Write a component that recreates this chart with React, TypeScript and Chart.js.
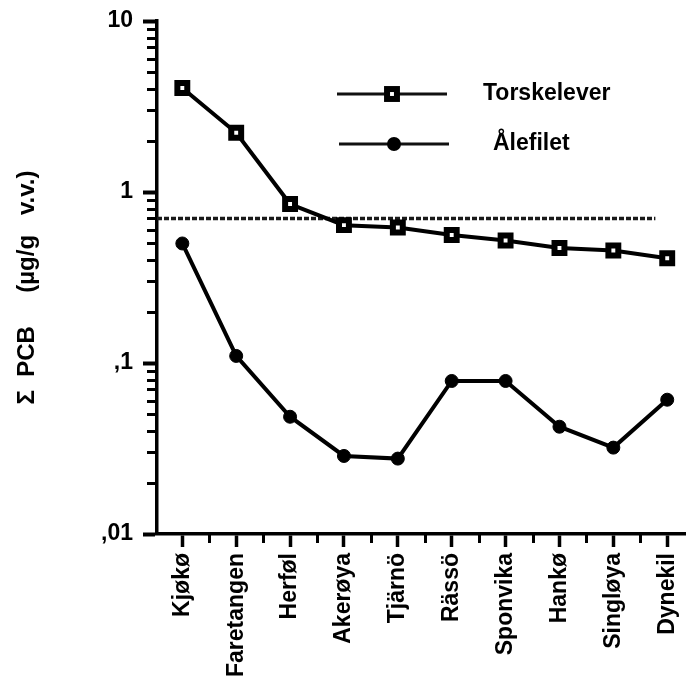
import React, { useEffect, useRef } from 'react';
import { Chart, registerables } from 'chart.js';

Chart.register(...registerables);

// ---- data ----
const CATEGORIES = ['Kjøkø', 'Faretangen', 'Herføl', 'Akerøya', 'Tjärnö', 'Rässö', 'Sponvika', 'Hankø', 'Singløya', 'Dynekil'];
const TORSKELEVER = [4.06, 2.22, 0.85, 0.64, 0.62, 0.56, 0.52, 0.47, 0.455, 0.41];
const ALEFILET = [0.5, 0.11, 0.0485, 0.0286, 0.0276, 0.0785, 0.0785, 0.0424, 0.032, 0.061];
const REFERENCE_LEVEL = 0.7;
const REFERENCE_SPAN = [-0.47, 8.78];
const Y_DECADES = [0.01, 0.1, 1, 10];
const Y_TICK_LABELS = [',01', ',1', '1', '10'];
const Y_MINOR_FACTORS = [2, 3, 4, 5, 6, 7, 8, 9];
const LEGEND_LABELS = ['Torskelever', 'Ålefilet'];
const Y_TITLE = 'Σ  PCB     (µg/g   v.v.)   ';

const X_MIN = -0.47;
const X_MAX = 9.33;
const FAMILY = '"Liberation Sans", Arial, Helvetica, sans-serif';
const FONT = { family: FAMILY, size: 23, weight: 'bold' as const };
const TITLE_FONT = { family: FAMILY, size: 24, weight: 'bold' as const };

function drawMinorTicks(chart: any) {
  const ctx = chart.ctx as CanvasRenderingContext2D;
  const a = chart.chartArea;
  const xs = chart.scales.x;
  const ys = chart.scales.y;
  ctx.save();
  ctx.setLineDash([]);
  ctx.strokeStyle = '#000';
  ctx.lineWidth = 3;
  ctx.lineCap = 'butt';
  const yMinor = Y_DECADES.slice(0, -1).flatMap((d) => Y_MINOR_FACTORS.map((f) => d * f));
  for (const v of yMinor) {
    const py = Math.round(ys.getPixelForValue(v)) + 0.5;
    ctx.beginPath();
    ctx.moveTo(a.left - 10, py);
    ctx.lineTo(a.left, py);
    ctx.stroke();
  }
  for (let i = 0; i < CATEGORIES.length - 1; i++) {
    const px = Math.round(xs.getPixelForValue(i + 0.5)) + 0.5;
    ctx.beginPath();
    ctx.moveTo(px, a.bottom);
    ctx.lineTo(px, a.bottom + 9);
    ctx.stroke();
  }
  ctx.restore();
}

function drawLegend(chart: any) {
  const ctx = chart.ctx as CanvasRenderingContext2D;
  const a = chart.chartArea;
  const items = [
    { label: LEGEND_LABELS[0], kind: 'rect', x0: a.left + 180, x1: a.left + 290, y: a.top + 73, tx: a.left + 326 },
    { label: LEGEND_LABELS[1], kind: 'circle', x0: a.left + 182, x1: a.left + 292, y: a.top + 123, tx: a.left + 336 },
  ];
  ctx.save();
  ctx.setLineDash([]);
  for (const it of items) {
    ctx.strokeStyle = '#111';
    ctx.lineWidth = 3;
    ctx.beginPath();
    ctx.moveTo(it.x0, it.y);
    ctx.lineTo(it.x1, it.y);
    ctx.stroke();
    const cx = (it.x0 + it.x1) / 2;
    if (it.kind === 'rect') {
      const h = 7 * Math.SQRT1_2;
      ctx.fillStyle = '#fff';
      ctx.fillRect(cx - h, it.y - h, 2 * h, 2 * h);
      ctx.lineWidth = 6;
      ctx.strokeStyle = '#000';
      ctx.strokeRect(cx - h, it.y - h, 2 * h, 2 * h);
    } else {
      ctx.fillStyle = '#000';
      ctx.beginPath();
      ctx.arc(cx, it.y, 7, 0, Math.PI * 2);
      ctx.fill();
    }
    ctx.fillStyle = '#000';
    ctx.font = `bold 23px ${FAMILY}`;
    ctx.textAlign = 'left';
    ctx.textBaseline = 'middle';
    ctx.fillText(it.label, it.tx, it.y);
  }
  ctx.restore();
}

const decorPlugin = {
  id: 'decor',
  afterDatasetsDraw(chart: any) {
    drawLegend(chart);
    drawMinorTicks(chart);
  },
};

export default function App() {
  const ref = useRef<HTMLCanvasElement>(null);
  useEffect(() => {
    const chart = new Chart(ref.current as HTMLCanvasElement, {
      type: 'line',
      data: {
        datasets: [
          {
            label: LEGEND_LABELS[0],
            data: TORSKELEVER.map((v, i) => ({ x: i, y: v })),
            borderColor: '#000',
            borderWidth: 4,
            pointStyle: 'rect',
            pointRadius: 7,
            pointBorderWidth: 6,
            pointBackgroundColor: '#fff',
            pointBorderColor: '#000',
            tension: 0,
            order: 1,
          },
          {
            label: LEGEND_LABELS[1],
            data: ALEFILET.map((v, i) => ({ x: i, y: v })),
            borderColor: '#000',
            borderWidth: 4,
            pointStyle: 'circle',
            pointRadius: 6.5,
            pointBorderWidth: 1,
            pointBackgroundColor: '#000',
            pointBorderColor: '#000',
            tension: 0,
            order: 2,
          },
          {
            label: 'reference',
            data: REFERENCE_SPAN.map((x) => ({ x, y: REFERENCE_LEVEL })),
            borderColor: '#1a1a1a',
            borderWidth: 3.5,
            borderDash: [5, 2],
            pointRadius: 0,
            order: 3,
          },
        ],
      },
      options: {
        animation: false,
        responsive: false,
        devicePixelRatio: 1,
        events: [],
        layout: { padding: { top: 21, right: 6, bottom: 0, left: 0 } },
        plugins: { legend: { display: false }, tooltip: { enabled: false } },
        scales: {
          x: {
            type: 'linear',
            position: 'bottom',
            min: X_MIN,
            max: X_MAX,
            afterBuildTicks: (s: any) => {
              s.ticks = CATEGORIES.map((_, i) => ({ value: i }));
            },
            afterFit: (s: any) => {
              s.height = 143;
              s.paddingLeft = 0;
              s.paddingRight = 0;
            },
            ticks: {
              autoSkip: false,
              maxRotation: 90,
              minRotation: 90,
              padding: 6,
              color: '#000',
              font: FONT,
              callback: (v: any) => CATEGORIES[v] ?? '',
            },
            grid: { drawOnChartArea: false, drawTicks: true, tickLength: 13, tickWidth: 3.5, tickColor: '#000' },
            border: { display: true, color: '#000', width: 3.5 },
          },
          y: {
            type: 'logarithmic',
            position: 'left',
            min: 0.01,
            max: 10,
            afterBuildTicks: (s: any) => {
              s.ticks = Y_DECADES.map((v) => ({ value: v, major: true }));
            },
            afterFit: (s: any) => {
              s.width = 157;
              s.paddingTop = 0;
              s.paddingBottom = 0;
            },
            ticks: {
              autoSkip: false,
              padding: 10,
              color: '#000',
              font: FONT,
              callback: (v: any) => {
                const i = Y_DECADES.findIndex((d) => Math.abs(d - v) / d < 1e-6);
                return i >= 0 ? Y_TICK_LABELS[i] : '';
              },
            },
            grid: { drawOnChartArea: false, drawTicks: true, tickLength: 14, tickWidth: 4, tickColor: '#000' },
            border: { display: true, color: '#000', width: 3.5 },
            title: {
              display: true,
              text: Y_TITLE,
              color: '#000',
              font: TITLE_FONT,
              padding: { top: 13, bottom: 0 },
            },
          },
        },
      } as any,
      plugins: [decorPlugin],
    });
    return () => chart.destroy();
  }, []);
  return (
    <div style={{ position: 'fixed', left: 0, top: 0, width: 698, height: 677, background: '#fff' }}>
      <canvas ref={ref} width={698} height={677} style={{ display: 'block' }} />
    </div>
  );
}
